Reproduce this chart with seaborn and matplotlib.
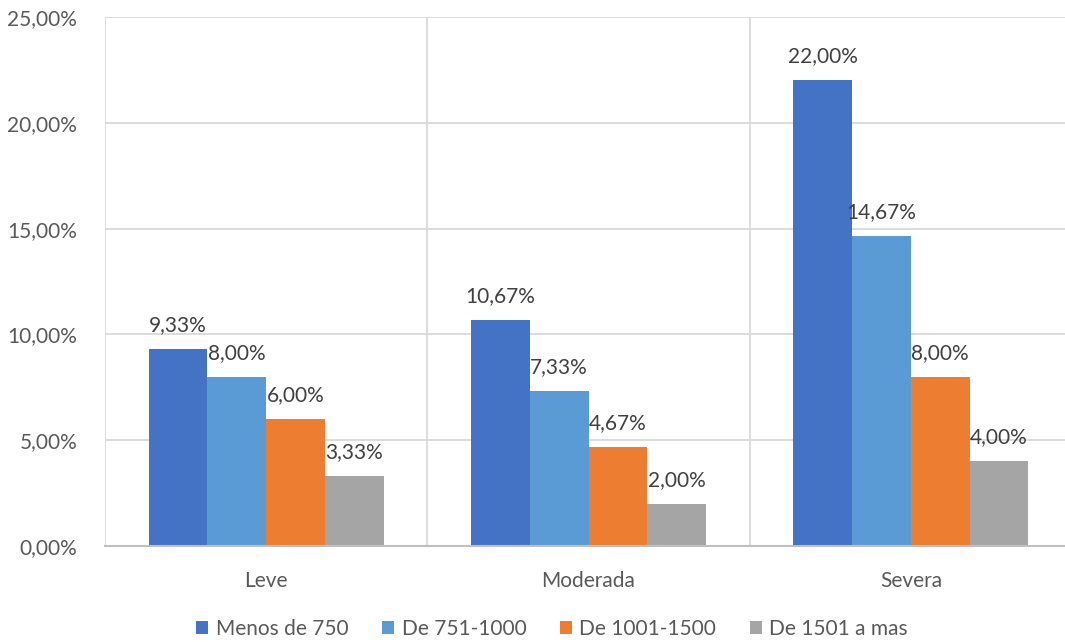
import matplotlib
matplotlib.use("Agg")
import matplotlib.pyplot as plt
import matplotlib.ticker as mticker
from matplotlib.patches import Patch
import seaborn as sns
import pandas as pd

# Chart data
categories = ["Leve", "Moderada", "Severa"]
groups = ["Menos de 750", "De 751-1000", "De 1001-1500", "De 1501 a mas"]
menos_750 = [9.33, 10.67, 22.00]
de_751_1000 = [8.00, 7.33, 14.67]
de_1001_1500 = [6.00, 4.67, 8.00]
de_1501_mas = [3.33, 2.00, 4.00]
colors = ["#4472C4", "#5B9BD5", "#ED7D31", "#A5A5A5"]

series = [menos_750, de_751_1000, de_1001_1500, de_1501_mas]
rows = []
for g, vals in zip(groups, series):
    for c, v in zip(categories, vals):
        rows.append({"Severidad": c, "Grupo": g, "Valor": v})
df = pd.DataFrame(rows)

sns.set_theme(style="white")
plt.rcParams["font.family"] = ["Lato", "DejaVu Sans"]

fig = plt.figure(figsize=(10.65, 6.42), dpi=100)
ax = fig.add_axes([105 / 1065, 96 / 642, 967 / 1065, 529 / 642])

sns.barplot(data=df, x="Severidad", y="Valor", hue="Grupo", order=categories,
            hue_order=groups, palette=colors, width=0.73, gap=0,
            saturation=1, legend=False, ax=ax, errorbar=None)

for cont, vals in zip(ax.containers, series):
    for p in cont:
        p.set_edgecolor("none")
    ax.bar_label(cont, labels=[f"{v:.2f}".replace(".", ",") + "%" for v in vals],
                 padding=10, fontsize=15, color="#404040")

ax.set_ylim(0, 25)
ax.set_xlim(-0.5, 2.5)
ax.yaxis.set_major_locator(mticker.MultipleLocator(5))
ax.yaxis.set_major_formatter(
    mticker.FuncFormatter(lambda v, _: f"{v:.2f}".replace(".", ",") + "%"))
ax.set_xticks(range(len(categories)))
ax.set_xticklabels(categories)
ax.xaxis.set_minor_locator(mticker.FixedLocator([-0.5, 0.5, 1.5, 2.5]))

ax.set_axisbelow(True)
ax.grid(axis="y", which="major", color="#D9D9D9", linewidth=1.3)
ax.grid(axis="x", which="minor", color="#D9D9D9", linewidth=1.3)
ax.grid(axis="x", which="major", visible=False)

for side in ["top", "right", "left"]:
    ax.spines[side].set_visible(False)
ax.spines["bottom"].set_color("#BFBFBF")
ax.spines["bottom"].set_linewidth(1.5)

ax.tick_params(axis="y", length=0, pad=20, labelsize=15, labelcolor="#595959")
ax.tick_params(axis="x", which="both", length=0, pad=18, labelsize=15,
               labelcolor="#595959")
ax.set_xlabel("")
ax.set_ylabel("")

handles = [Patch(facecolor=c, edgecolor="none", label=g) for c, g in zip(colors, groups)]
fig.legend(handles=handles, loc="center", bbox_to_anchor=(552 / 1065, 13 / 642),
           ncol=4, frameon=False, fontsize=15, labelcolor="#595959",
           handlelength=0.6, handleheight=0.6, handletextpad=0.35,
           columnspacing=1.6)

fig.savefig("out.png", dpi=100)
